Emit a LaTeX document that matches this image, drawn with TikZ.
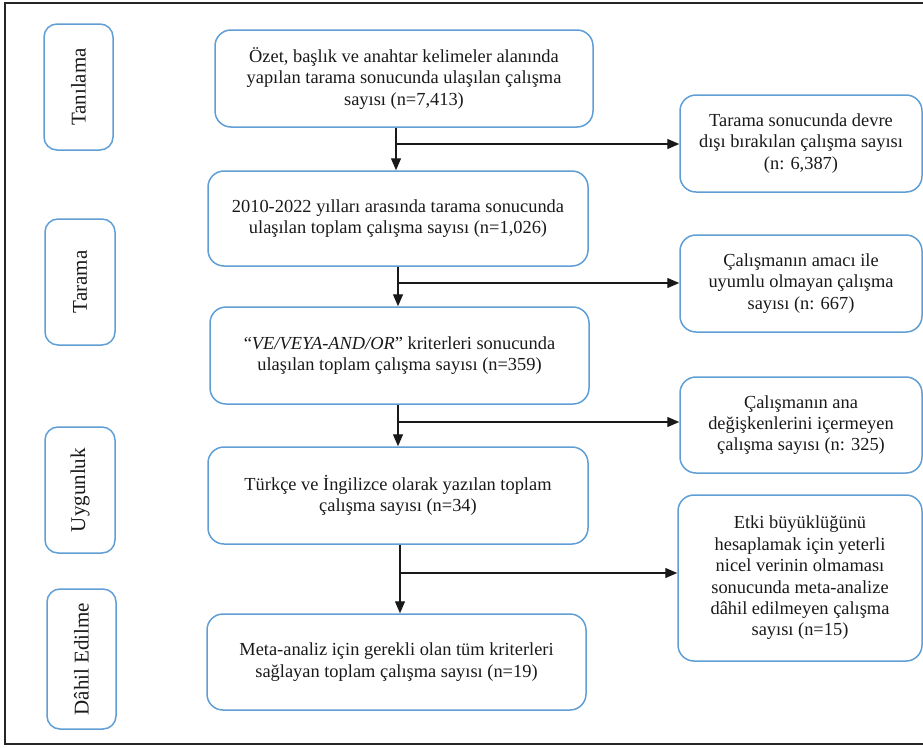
\documentclass[tikz,border=0pt]{standalone}
\usepackage{fontspec}
\setmainfont{Liberation Serif}
\usetikzlibrary{arrows.meta}
\definecolor{boxblue}{RGB}{96,158,214}
\definecolor{txt}{RGB}{25,25,25}
\begin{document}
\begin{tikzpicture}[x=1pt,y=-1pt,
  mainbox/.style={draw=boxblue,line width=1.5pt,rounded corners=16pt,align=center,
    text=txt,font=\fontsize{18.4}{21.4}\selectfont,inner sep=0pt},
  sidebox/.style={draw=boxblue,line width=1.5pt,rounded corners=13pt,
    text=txt,font=\fontsize{21}{24}\selectfont,inner sep=0pt},
  sidelabel/.style={rotate=90,text=txt,font=\fontsize{21}{24}\selectfont,inner sep=0pt},
  arr/.style={line width=1.3pt,draw=black!90,-{Triangle[width=10pt,length=12pt]}},
  branch/.style={line width=1.3pt,draw=black!80}]
\useasboundingbox (0,0) rectangle (923,747);
\draw[line width=1.5pt,draw=black!85] (5,3) rectangle (926,744);

% side stage boxes
\node[sidebox,minimum width=69pt,minimum height=126pt] (L1) at (78.5,87) {};
\node[sidelabel] (T1) at (L1.center) {Tanılama};
\node[sidebox,minimum width=70pt,minimum height=126pt] (L2) at (80,282) {};
\node[sidelabel] (T2) at (L2.center) {Tarama};
\node[sidebox,minimum width=70pt,minimum height=126pt] (L3) at (80,490) {};
\node[sidelabel] (T3) at (L3.center) {Uygunluk};
\node[sidebox,minimum width=69pt,minimum height=140pt] (L4) at (81.5,659) {};
\node[sidelabel] (T4) at (L4.center) {Dâhil Edilme};

% main column
\node[mainbox,minimum width=378pt,minimum height=97pt] (B1) at (404,78.5)
  {Özet, başlık ve anahtar kelimeler alanında\\yapılan tarama sonucunda ulaşılan çalışma\\sayısı (n=7,413)};
\node[mainbox,minimum width=380pt,minimum height=95pt] (B2) at (398,218.5)
  {2010-2022 yılları arasında tarama sonucunda\\ulaşılan toplam çalışma sayısı (n=1,026)};
\node[mainbox,minimum width=379pt,minimum height=97pt] (B3) at (399.5,355.5)
  {“\textit{VE/VEYA-AND/OR}” kriterleri sonucunda\\ulaşılan toplam çalışma sayısı (n=359)};
\node[mainbox,minimum width=380pt,minimum height=97pt] (B4) at (398,495.5)
  {Türkçe ve İngilizce olarak yazılan toplam\\çalışma sayısı (n=34)};
\node[mainbox,minimum width=379pt,minimum height=96pt] (B5) at (396.5,662)
  {Meta-analiz için gerekli olan tüm kriterleri\\sağlayan toplam çalışma sayısı (n=19)};

% right column
\node[mainbox,minimum width=242pt,minimum height=97pt] (R1) at (801,143.5)
  {Tarama sonucunda devre\\dışı bırakılan çalışma sayısı\\(n: 6,387)};
\node[mainbox,minimum width=242pt,minimum height=97pt] (R2) at (801,283.5)
  {Çalışmanın amacı ile\\uyumlu olmayan çalışma\\sayısı (n: 667)};
\node[mainbox,minimum width=242pt,minimum height=96pt] (R3) at (801,425)
  {Çalışmanın ana\\değişkenlerini içermeyen\\çalışma sayısı (n: 325)};
\node[mainbox,minimum width=244pt,minimum height=166pt] (R4) at (800,578)
  {Etki büyüklüğünü\\hesaplamak için yeterli\\nicel verinin olmaması\\sonucunda meta-analize\\dâhil edilmeyen çalışma\\sayısı (n=15)};

% junctions
\coordinate (j1) at (396,144);
\coordinate (j2) at (398,283);
\coordinate (j3) at (398,422);
\coordinate (j4) at (400,573);

\draw[arr] (B1.south -| j1) -- (B2.north -| j1);
\draw[arr] (j1) -- (R1.west |- j1);
\draw[arr] (B2.south -| j2) -- (B3.north -| j2);
\draw[arr] (j2) -- (R2.west |- j2);
\draw[arr] (B3.south -| j3) -- (B4.north -| j3);
\draw[arr] (j3) -- (R3.west |- j3);
\draw[arr] (B4.south -| j4) -- (B5.north -| j4);
\draw[arr] (j4) -- (R4.west |- j4);
\end{tikzpicture}
\end{document}
